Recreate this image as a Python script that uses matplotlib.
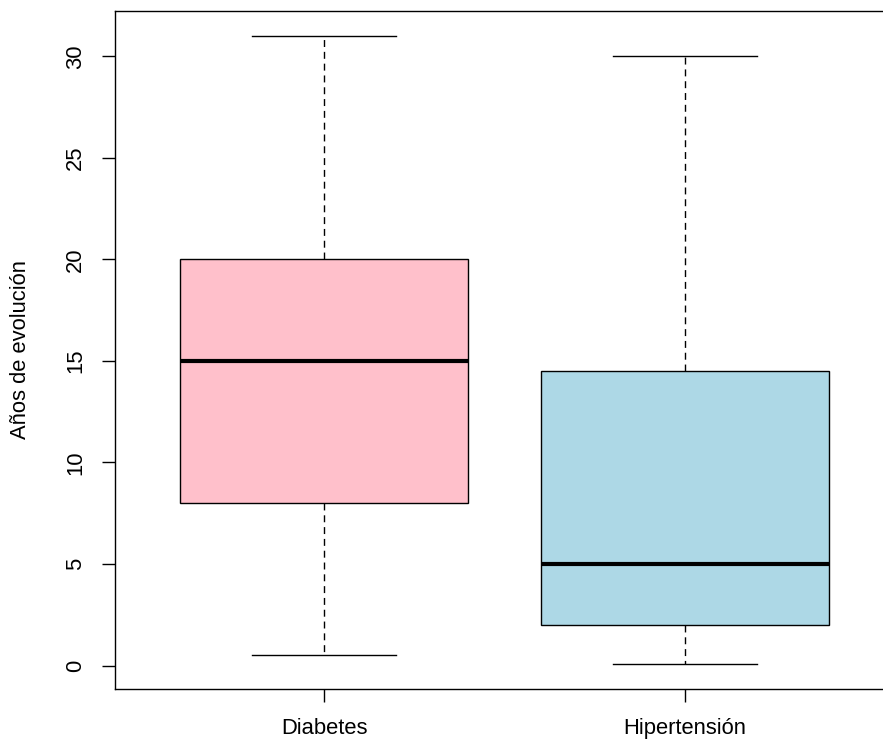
import matplotlib.pyplot as plt

plt.rcParams["font.family"] = ["Liberation Sans", "DejaVu Sans"]

categories = ["Diabetes", "Hipertensión"]
whislo = [0.5, 0.08]
q1 = [8, 2]
med = [15, 5]
q3 = [20, 14.5]
whishi = [31, 30]
colors = ["#FFC0CB", "#ADD8E6"]
yticks = [0, 5, 10, 15, 20, 25, 30]

stats = []
for i, name in enumerate(categories):
    stats.append({"label": name, "whislo": whislo[i], "q1": q1[i], "med": med[i],
                  "q3": q3[i], "whishi": whishi[i], "fliers": []})

fig = plt.figure(figsize=(8.83, 7.43), dpi=100)
# R plot region runs a bit past the right edge of the picture
ax = fig.add_axes([115 / 883, 54 / 743, 779 / 883, 678 / 743])

bp = ax.bxp(stats, positions=[1, 2], widths=0.8, patch_artist=True,
            showfliers=False,
            boxprops=dict(linewidth=1, edgecolor="black"),
            medianprops=dict(color="black", linewidth=3, solid_capstyle="butt"),
            whiskerprops=dict(color="black", linewidth=1, linestyle=(0, (5, 3.5))),
            capprops=dict(color="black", linewidth=1),
            capwidths=0.4)
for patch, c in zip(bp["boxes"], colors):
    patch.set_facecolor(c)

lo = min(whislo)
hi = max(whishi)
pad = 0.04 * (hi - lo)
ax.set_ylim(lo - pad, hi + pad)
ax.set_xlim(0.42, 2.58)

ax.set_yticks(yticks)
ax.set_yticklabels([str(t) for t in yticks], rotation=90, va="center")
ax.set_xticks([1, 2])
ax.set_xticklabels(categories)
ax.tick_params(axis="both", length=9.7, width=1, labelsize=15.8, pad=11)
fig.text(21 / 883, 1 - 350 / 743, "Años de evolución", rotation=90,
         ha="center", va="center", fontsize=15.8)
for s in ax.spines.values():
    s.set_linewidth(1)

fig.savefig("out.png", dpi=100)
